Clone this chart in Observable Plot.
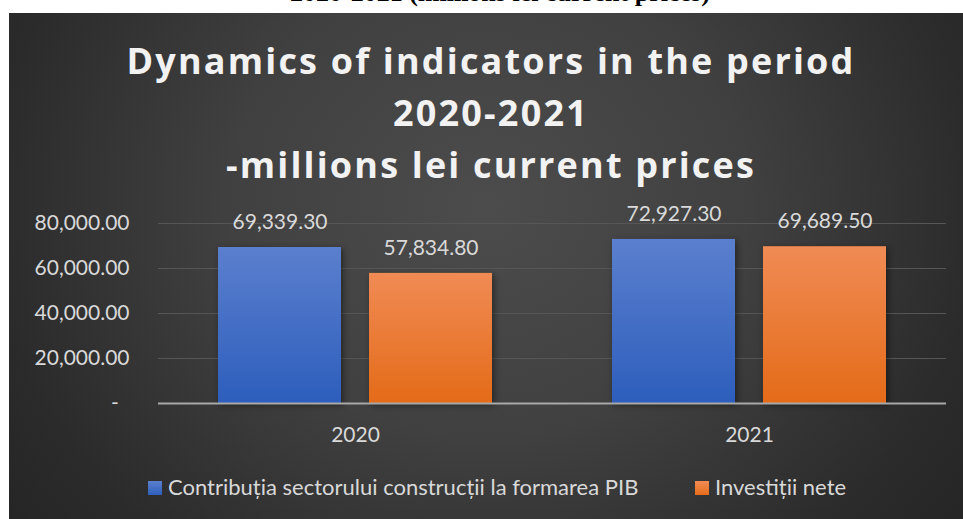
<!DOCTYPE html>
<html><head><meta charset="utf-8">
<script src="https://cdn.jsdelivr.net/npm/d3@7"></script>
<script src="https://cdn.jsdelivr.net/npm/@observablehq/plot@0.6"></script>
<style>
html,body{margin:0;padding:0;background:#fff;}
body{width:963px;height:519px;position:relative;overflow:hidden;font-family:Lato,"Open Sans",sans-serif;}
#top{position:absolute;left:290px;top:-22px;font-weight:bold;font-size:26px;font-family:"Liberation Serif","Times New Roman",serif;color:#000;white-space:nowrap;line-height:normal;}
#panel{position:absolute;left:9px;top:13px;width:954px;height:506px;
  background:radial-gradient(ellipse 580px 520px at 50% 38%, #4c4c4c 0%, #404040 45%, #2b2b2b 85%, #262626 100%);}
#title{position:absolute;left:0;top:35px;width:982px;text-align:center;color:#f2f2f2;font-weight:bold;font-size:36px;line-height:52px;white-space:nowrap;font-family:"Open Sans",Lato,sans-serif;}
#chart{position:absolute;left:0;top:190px;}
.sw{position:absolute;top:481px;width:14px;height:14px;}
.lt{position:absolute;top:474px;font-size:22px;line-height:26px;color:#d9d9d9;white-space:nowrap;}
</style></head>
<body>
<div id="top"></div>
<div id="panel"></div>
<div id="title"></div>
<div id="chart"></div>
<div class="sw" id="sw0" style="left:148px;background:linear-gradient(#5b7fce,#2f5fbb);"></div>
<div class="lt" id="lt0" style="left:168px;"></div>
<div class="sw" id="sw1" style="left:695px;background:linear-gradient(#f08c56,#e56c19);"></div>
<div class="lt" id="lt1" style="left:715px;"></div>
<script>
const topCaption = "2020-2021 (millions lei current prices)";
const titleLines = ["Dynamics of indicators in the period", "2020-2021", "-millions lei current prices"];
const years = ["2020", "2021"];
const seriesNames = ["Contribuția sectorului construcții la formarea PIB", "Investiții nete"];
const contrib = [69339.3, 72927.3];
const invest = [57834.8, 69689.5];
const yTicks = [0, 20000, 40000, 60000, 80000];

document.getElementById("top").textContent = topCaption;
const titleEl = document.getElementById("title");
titleLines.forEach(l => { const d = document.createElement("div"); d.textContent = l; titleEl.appendChild(d); });
// uniform letter spacing so the first title line spans the reference width
const cv = document.createElement("canvas").getContext("2d");
cv.font = "bold 36px 'Open Sans', Lato, sans-serif";
const w0 = cv.measureText(titleLines[0]).width;
titleEl.style.letterSpacing = Math.max(0, (729 - w0) / titleLines[0].length) + "px";

document.getElementById("lt0").textContent = seriesNames[0];
document.getElementById("lt1").textContent = seriesNames[1];

const data = years.flatMap((yr, i) => [
  {year: yr, series: seriesNames[0], value: contrib[i]},
  {year: yr, series: seriesNames[1], value: invest[i]}
]);
const fills = {[seriesNames[0]]: "url(#gBlue)", [seriesNames[1]]: "url(#gOrange)"};
const fmt = d3.format(",.2f");

const plot = Plot.plot({
  width: 963, height: 265,
  marginLeft: 157, marginRight: 17, marginTop: 33, marginBottom: 52,
  style: {background: "transparent", color: "#d9d9d9", fontFamily: "Lato, 'Open Sans', sans-serif", fontSize: "21px", overflow: "visible"},
  fx: {domain: years, padding: 0, axis: "bottom", tickSize: 0, tickPadding: 24, label: null},
  x: {domain: seriesNames, paddingInner: 0.185, paddingOuter: 0.397, axis: null},
  y: {domain: [0, 80000], ticks: yTicks, tickFormat: d => d === 0 ? "-\u00a0\u00a0" : fmt(d), tickSize: 0, tickPadding: 29, label: null, axis: "left"},
  color: {type: "identity"},
  marks: [
    Plot.ruleY(yTicks.filter(d => d > 0), {stroke: "#565656", strokeWidth: 1}),
    Plot.barY(data, {fx: "year", x: "series", y: "value", fill: d => fills[d.series]}),
    Plot.ruleY([0], {stroke: "#a8a8a8", strokeWidth: 2}),
    Plot.text(data, {fx: "year", x: "series", y: "value", text: d => fmt(d.value), dy: -25, fill: "#d9d9d9", fontSize: 21})
  ]
});
const svg = d3.select(plot);
const defs = svg.insert("defs", ":first-child");
const g1 = defs.append("linearGradient").attr("id", "gBlue").attr("x1", 0).attr("y1", 0).attr("x2", 0).attr("y2", 1);
g1.append("stop").attr("offset", "0%").attr("stop-color", "#5b7fce");
g1.append("stop").attr("offset", "100%").attr("stop-color", "#2d5ebc");
const g2 = defs.append("linearGradient").attr("id", "gOrange").attr("x1", 0).attr("y1", 0).attr("x2", 0).attr("y2", 1);
g2.append("stop").attr("offset", "0%").attr("stop-color", "#f08b55");
g2.append("stop").attr("offset", "100%").attr("stop-color", "#e46b18");
svg.selectAll("g[aria-label='bar'] rect").style("filter", "drop-shadow(2px 2px 3px rgba(0,0,0,0.45))");
document.getElementById("chart").appendChild(plot);
</script>
</body></html>
